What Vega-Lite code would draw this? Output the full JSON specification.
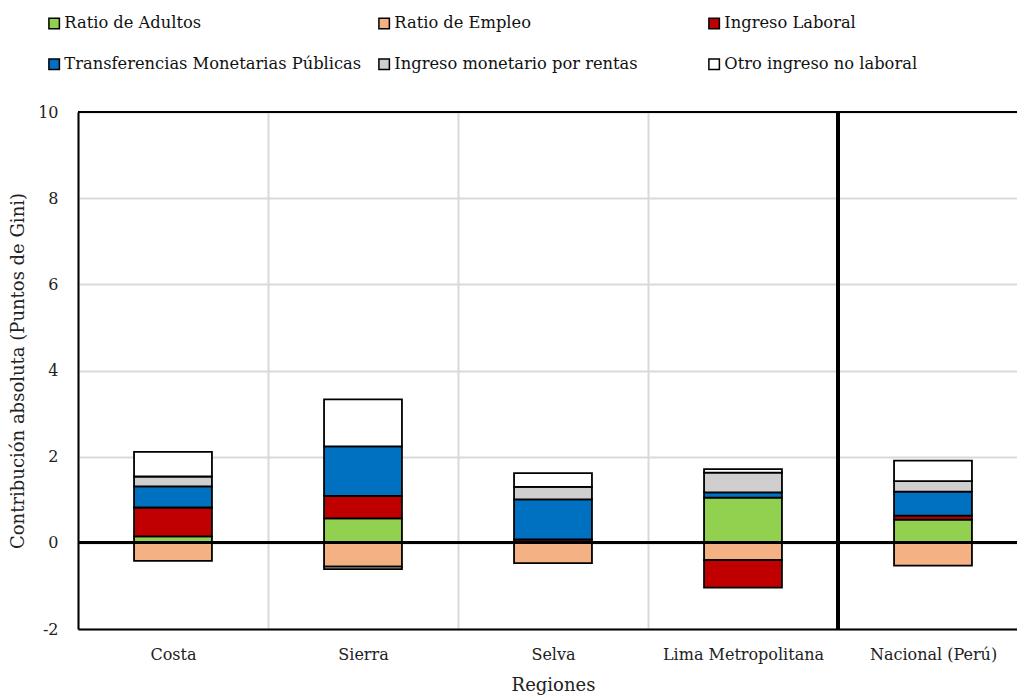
{
  "$schema": "https://vega.github.io/schema/vega-lite/v6.json",
  "width": 939,
  "height": 517,
  "autosize": {"type": "none"},
  "padding": {"left": 78, "top": 112, "right": 0, "bottom": 66},
  "config": {
    "font": "DejaVu Serif",
    "view": {"stroke": null},
    "axis": {"labelFontSize": 16, "titleFontSize": 18, "labelColor": "#222", "titleColor": "#222", "labelFont": "DejaVu Serif", "titleFont": "DejaVu Serif", "titleFontWeight": "normal"},
    "legend": {"labelFont": "DejaVu Serif", "labelFontSize": 16.3, "labelColor": "#111"}
  },
  "data": {
    "values": [
      {"region": "Costa", "componente": "Ratio de Adultos", "valor": 0.15},
      {"region": "Costa", "componente": "Ratio de Empleo", "valor": -0.42},
      {"region": "Costa", "componente": "Ingreso Laboral", "valor": 0.67},
      {"region": "Costa", "componente": "Transferencias Monetarias Públicas", "valor": 0.49},
      {"region": "Costa", "componente": "Ingreso monetario por rentas", "valor": 0.23},
      {"region": "Costa", "componente": "Otro ingreso no laboral", "valor": 0.57},
      {"region": "Sierra", "componente": "Ratio de Adultos", "valor": 0.57},
      {"region": "Sierra", "componente": "Ratio de Empleo", "valor": -0.55},
      {"region": "Sierra", "componente": "Ingreso Laboral", "valor": 0.52},
      {"region": "Sierra", "componente": "Transferencias Monetarias Públicas", "valor": 1.15},
      {"region": "Sierra", "componente": "Ingreso monetario por rentas", "valor": -0.06},
      {"region": "Sierra", "componente": "Otro ingreso no laboral", "valor": 1.09},
      {"region": "Selva", "componente": "Ratio de Adultos", "valor": 0.03},
      {"region": "Selva", "componente": "Ratio de Empleo", "valor": -0.47},
      {"region": "Selva", "componente": "Ingreso Laboral", "valor": 0.05},
      {"region": "Selva", "componente": "Transferencias Monetarias Públicas", "valor": 0.93},
      {"region": "Selva", "componente": "Ingreso monetario por rentas", "valor": 0.29},
      {"region": "Selva", "componente": "Otro ingreso no laboral", "valor": 0.32},
      {"region": "Lima Metropolitana", "componente": "Ratio de Adultos", "valor": 1.05},
      {"region": "Lima Metropolitana", "componente": "Ratio de Empleo", "valor": -0.40},
      {"region": "Lima Metropolitana", "componente": "Ingreso Laboral", "valor": -0.64},
      {"region": "Lima Metropolitana", "componente": "Transferencias Monetarias Públicas", "valor": 0.12},
      {"region": "Lima Metropolitana", "componente": "Ingreso monetario por rentas", "valor": 0.46},
      {"region": "Lima Metropolitana", "componente": "Otro ingreso no laboral", "valor": 0.08},
      {"region": "Nacional (Perú)", "componente": "Ratio de Adultos", "valor": 0.54},
      {"region": "Nacional (Perú)", "componente": "Ratio de Empleo", "valor": -0.53},
      {"region": "Nacional (Perú)", "componente": "Ingreso Laboral", "valor": 0.09},
      {"region": "Nacional (Perú)", "componente": "Transferencias Monetarias Públicas", "valor": 0.56},
      {"region": "Nacional (Perú)", "componente": "Ingreso monetario por rentas", "valor": 0.24},
      {"region": "Nacional (Perú)", "componente": "Otro ingreso no laboral", "valor": 0.48}
    ]
  },
  "layer": [
    {
      "transform": [
        {"calculate": "indexof(['Ratio de Adultos', 'Ratio de Empleo', 'Ingreso Laboral', 'Transferencias Monetarias Públicas', 'Ingreso monetario por rentas', 'Otro ingreso no laboral'], datum.componente)", "as": "orden"}
      ],
      "mark": {"type": "bar", "width": {"band": 0.41}, "stroke": "black", "strokeWidth": 1.8},
      "encoding": {
        "x": {
          "field": "region",
          "type": "nominal",
          "sort": ["Costa", "Sierra", "Selva", "Lima Metropolitana", "Nacional (Perú)"],
          "scale": {"range": [0, 950], "paddingInner": 0, "paddingOuter": 0},
          "axis": {
            "title": "Regiones",
            "labelAngle": 0,
            "ticks": false,
            "tickBand": "extent",
            "grid": true,
            "gridColor": "#d9d9d9",
            "gridWidth": 2,
            "domainColor": "black",
            "domainWidth": 2,
            "labelPadding": 17,
            "titlePadding": 14,
            "labelLimit": 300
          }
        },
        "y": {
          "field": "valor",
          "type": "quantitative",
          "stack": "zero",
          "scale": {"domain": [-2, 10], "nice": false},
          "axis": {
            "title": "Contribución absoluta (Puntos de Gini)",
            "values": [-2, 0, 2, 4, 6, 8, 10],
            "labelExpr": "toString(datum.value)",
            "ticks": false,
            "grid": true,
            "gridColor": "#d9d9d9",
            "gridWidth": 2,
            "domainColor": "black",
            "domainWidth": 2,
            "labelPadding": 20,
            "titlePadding": 10
          }
        },
        "order": {"field": "orden", "type": "quantitative"},
        "color": {
          "field": "componente",
          "type": "nominal",
          "scale": {
            "domain": ["Ratio de Adultos", "Ratio de Empleo", "Ingreso Laboral", "Transferencias Monetarias Públicas", "Ingreso monetario por rentas", "Otro ingreso no laboral"],
            "range": ["#92D050", "#F4B183", "#C00000", "#0070C0", "#D0CECE", "#FFFFFF"]
          },
          "legend": {
            "title": null,
            "orient": "none",
            "direction": "horizontal",
            "legendX": -32,
            "legendY": -97,
            "columns": 3,
            "gridAlign": "all",
            "columnPadding": 13,
            "rowPadding": 23,
            "symbolType": "square",
            "symbolSize": 110,
            "symbolStrokeColor": "black",
            "symbolStrokeWidth": 1.5,
            "labelOffset": 2,
            "labelLimit": 400
          }
        }
      }
    },
    {
      "mark": {"type": "rule", "color": "black", "strokeWidth": 2.5},
      "encoding": {"y": {"datum": 0}}
    },
    {
      "mark": {"type": "rule", "color": "black", "strokeWidth": 2},
      "encoding": {"y": {"datum": 10}}
    },
    {
      "mark": {"type": "rule", "color": "black", "strokeWidth": 2.5},
      "encoding": {"x": {"datum": "Nacional (Perú)", "bandPosition": 0}}
    }
  ]
}
